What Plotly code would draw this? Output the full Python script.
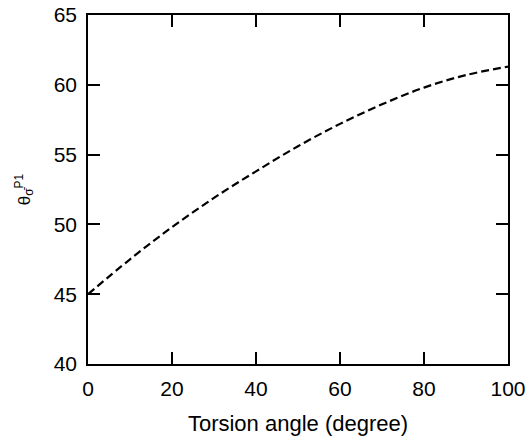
import plotly.graph_objects as go

torsion_angle = [0, 10, 20, 30, 40, 50, 60, 70, 80, 90, 100]
theta_values = [45.0, 47.5, 49.8, 51.9, 53.8, 55.6, 57.2, 58.6, 59.8, 60.7, 61.3]

x_ticks = [0, 20, 40, 60, 80, 100]
y_ticks = [40, 45, 50, 55, 60, 65]

fig = go.Figure()
fig.add_trace(go.Scatter(
    x=torsion_angle, y=theta_values, mode="lines",
    line=dict(color="black", width=2.2, dash="8px,4px", shape="spline"),
    showlegend=False, hoverinfo="skip",
))

axis_common = dict(
    showgrid=False, zeroline=False, showline=True, linecolor="black", linewidth=1.5,
    mirror="ticks", ticks="inside", ticklen=12, tickwidth=1.5, tickcolor="black",
    tickfont=dict(family="Liberation Sans, Arial", size=21, color="black"),
    automargin=False, ticklabeloverflow="allow",
)

fig.update_layout(
    width=527, height=437,
    margin=dict(l=88, r=19, t=15, b=73),
    paper_bgcolor="white", plot_bgcolor="white",
    font=dict(family="Liberation Sans, Arial", color="black"),
    xaxis=dict(range=[0, 100], tickvals=x_ticks, ticklabelstandoff=5,
               title=dict(text="Torsion angle (degree)", font=dict(size=22), standoff=17),
               **axis_common),
    yaxis=dict(range=[40, 65], tickvals=y_ticks, ticklabelstandoff=5,
               title=dict(text="θ<sub>σ̄</sub><sup>P1</sup>", font=dict(size=17), standoff=19),
               **axis_common),
)

# remove the browser's default 8px body margin so the figure fills the window
fig.write_html("out.html", config={"displayModeBar": False},
               post_script="document.body.style.margin='0';")
